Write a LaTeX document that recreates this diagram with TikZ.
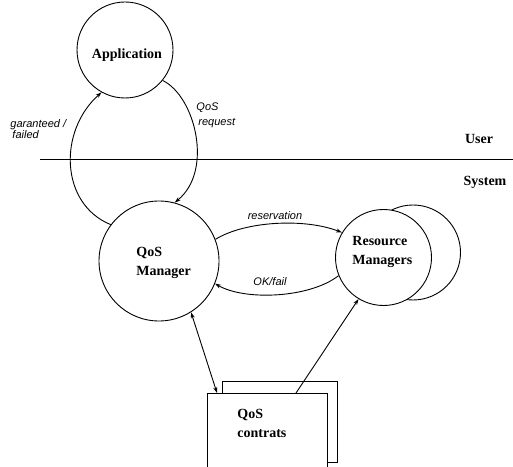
\documentclass[tikz,border=0pt]{standalone}
\usepackage{fontspec}
\setmainfont{Liberation Serif}
\newfontfamily\lblfont{Liberation Sans}
\usetikzlibrary{arrows.meta}
\begin{document}
\begin{tikzpicture}[x=1pt,y=1pt,line width=0.9pt,
  proc/.style={circle,draw,fill=white,inner sep=0pt},
  boxtxt/.style={font=\fontsize{14}{16}\selectfont\bfseries,align=left,inner sep=0pt},
  msg/.style={font=\lblfont\fontsize{11}{11}\selectfont\itshape,inner sep=0pt},
  arr/.style={-{Stealth[length=6pt,width=4pt]}},
  darr/.style={{Stealth[length=6pt,width=4pt]}-{Stealth[length=6pt,width=4pt]}},
  sheet/.style={rectangle,draw,fill=white,inner sep=0pt}]
\useasboundingbox (0,0) rectangle (513,466);
\clip (0,0) rectangle (513,466);
% processes
\node[proc,minimum size=96pt] (app) at (125,416) {};
\node[boxtxt] (apptxt) at (127,411) {Application};
\node[proc,minimum size=120pt] (qm) at (159,205) {};
\node[boxtxt,anchor=west] (qmtxt) at (136,203.5) {QoS\\[3pt]Manager};
\node[proc,minimum size=95pt] (rmback) at (413,213.5) {};
\node[proc,minimum size=96pt] (rm) at (383.5,208.5) {};
\node[boxtxt,anchor=west] (rmtxt) at (352,214) {Resource\\[3pt]Managers};
% contracts
\node[sheet,minimum width=115pt,minimum height=81pt] (back) at (279.5,44.5) {};
\node[sheet,minimum width=120pt,minimum height=83pt] (front) at (267,31.5) {};
\node[boxtxt,anchor=west] (ctxt) at (237,42.5) {QoS\\[3pt]contrats};
% user / system
\draw (40,307) coordinate (l1) -- (513,307) coordinate (l2);
\node[boxtxt] (user) at (479,327) {User};
\node[boxtxt] (system) at (485,284) {System};
% connectors
\draw[arr] (qm.143) .. controls (60,262) and (58,335) .. (app.241);
\draw[arr] (app.-39) .. controls (195,370) and (214,295) .. (qm.75);
\draw[arr] (qm.21) .. controls (245,245) and (305,248) .. (rm.149);
\draw[arr] (rm.202) .. controls (310,168) and (245,165) .. (qm.-22);
\coordinate (c1) at (217,73);
\coordinate (c2) at (296,73);
\draw[darr] (qm.-58) -- (c1);
\draw[arr] (c2) -- (rm.239);
% message labels
\node[msg,anchor=west,align=left] (gf) at (10,337) {garanteed /\\[0pt]\hspace*{2pt}failed};
\node[msg,anchor=west] (qos) at (196,358) {QoS};
\node[msg,anchor=west] (req) at (198,343) {request};
\node[msg] (res) at (275,250) {reservation};
\node[msg] (ok) at (270,184) {OK/fail};
\end{tikzpicture}
\end{document}
